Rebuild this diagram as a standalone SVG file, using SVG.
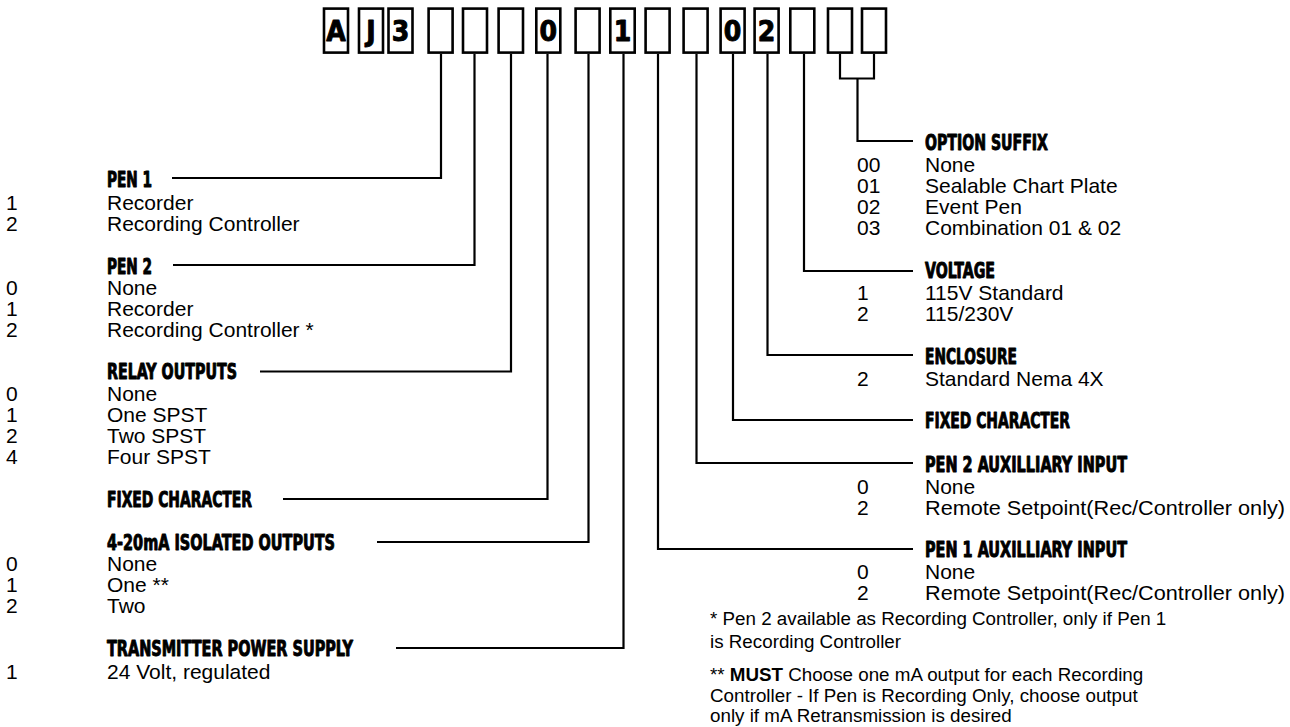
<svg xmlns="http://www.w3.org/2000/svg" width="1290" height="727" viewBox="0 0 1290 727">
<style>
.box{fill:#fff;stroke:#000;stroke-width:2.6}
.bx{font-family:"Liberation Sans Narrow","DejaVu Sans Condensed","Liberation Sans",sans-serif;font-weight:bold;font-size:28px;text-anchor:middle;fill:#000;stroke:#000;stroke-width:0.9;stroke-linejoin:round}
.hd{font-family:"Liberation Sans Narrow","DejaVu Sans Condensed","Liberation Sans",sans-serif;font-weight:bold;font-size:20.5px;fill:#000;stroke:#000;stroke-width:0.9;stroke-linejoin:round}
.tx{font-family:"Liberation Sans",Arial,sans-serif;font-size:21px;fill:#000}
.fn{font-family:"Liberation Sans",Arial,sans-serif;font-size:18.8px;fill:#000}
.conn{fill:none;stroke:#000;stroke-width:2.2}
</style>
<rect width="1290" height="727" fill="#fff"/>
<g id="connectors" class="conn">
<path d="M441,54 V178 H172"/>
<path d="M474.5,54 V265 H173"/>
<path d="M511,54 V371.5 H260"/>
<path d="M547.5,54 V499 H283"/>
<path d="M588.5,54 V542 H377"/>
<path d="M623.5,54 V648 H396"/>
<path d="M658,54 V549 H913"/>
<path d="M696.5,54 V463 H913"/>
<path d="M733,54 V420 H913"/>
<path d="M767.5,54 V355 H913"/>
<path d="M804,54 V271 H913"/>
<path d="M840,54 V78.5 H874 V54"/>
<path d="M857.5,78.5 V141 H913"/>
</g>
<g id="box1"><rect class="box" x="324" y="8.6" width="24" height="44"/><text class="bx" x="336" y="41">A</text></g>
<g id="box2"><rect class="box" x="359" y="8.6" width="24" height="44"/><text class="bx" x="371" y="41">J</text></g>
<g id="box3"><rect class="box" x="388.5" y="8.6" width="24" height="44"/><text class="bx" x="400.5" y="41">3</text></g>
<g id="box4"><rect class="box" x="428.6" y="8.6" width="24" height="44"/></g>
<g id="box5"><rect class="box" x="463" y="8.6" width="24" height="44"/></g>
<g id="box6"><rect class="box" x="498.6" y="8.6" width="24.4" height="44"/></g>
<g id="box7"><rect class="box" x="536.3" y="8.6" width="24" height="44"/><text class="bx" x="548.3" y="41">0</text></g>
<g id="box8"><rect class="box" x="575.6" y="8.6" width="24" height="44"/></g>
<g id="box9"><rect class="box" x="610.3" y="8.6" width="24.4" height="44"/><text class="bx" x="622.5" y="41">1</text></g>
<g id="box10"><rect class="box" x="645.6" y="8.6" width="24" height="44"/></g>
<g id="box11"><rect class="box" x="683.6" y="8.6" width="24" height="44"/></g>
<g id="box12"><rect class="box" x="720.6" y="8.6" width="24" height="44"/><text class="bx" x="732.6" y="41">0</text></g>
<g id="box13"><rect class="box" x="754.6" y="8.6" width="24" height="44"/><text class="bx" x="766.6" y="41">2</text></g>
<g id="box14"><rect class="box" x="790.3" y="8.6" width="24" height="44"/></g>
<g id="box15"><rect class="box" x="828" y="8.6" width="24" height="44"/></g>
<g id="box16"><rect class="box" x="862" y="8.6" width="24" height="44"/></g>

<g id="pen1">
<text class="hd" x="107" y="186.5" textLength="45" lengthAdjust="spacingAndGlyphs">PEN 1</text>
<text class="tx" x="6" y="210">1</text><text class="tx" x="107" y="210">Recorder</text>
<text class="tx" x="6" y="231">2</text><text class="tx" x="107" y="231">Recording Controller</text>
</g>
<g id="pen2">
<text class="hd" x="107" y="273.5" textLength="45" lengthAdjust="spacingAndGlyphs">PEN 2</text>
<text class="tx" x="6" y="295">0</text><text class="tx" x="107" y="295">None</text>
<text class="tx" x="6" y="316">1</text><text class="tx" x="107" y="316">Recorder</text>
<text class="tx" x="6" y="337">2</text><text class="tx" x="107" y="337">Recording Controller *</text>
</g>
<g id="relay">
<text class="hd" x="107" y="378.5" textLength="130" lengthAdjust="spacingAndGlyphs">RELAY OUTPUTS</text>
<text class="tx" x="6" y="401">0</text><text class="tx" x="107" y="401">None</text>
<text class="tx" x="6" y="422">1</text><text class="tx" x="107" y="422">One SPST</text>
<text class="tx" x="6" y="443">2</text><text class="tx" x="107" y="443">Two SPST</text>
<text class="tx" x="6" y="464">4</text><text class="tx" x="107" y="464">Four SPST</text>
</g>
<g id="fixed-left">
<text class="hd" x="107" y="507" textLength="145" lengthAdjust="spacingAndGlyphs">FIXED CHARACTER</text>
</g>
<g id="isolated">
<text class="hd" x="107" y="549.5" textLength="228" lengthAdjust="spacingAndGlyphs">4-20mA ISOLATED OUTPUTS</text>
<text class="tx" x="6" y="571">0</text><text class="tx" x="107" y="571">None</text>
<text class="tx" x="6" y="592">1</text><text class="tx" x="107" y="592">One **</text>
<text class="tx" x="6" y="613">2</text><text class="tx" x="107" y="613">Two</text>
</g>
<g id="transmitter">
<text class="hd" x="107" y="656" textLength="246" lengthAdjust="spacingAndGlyphs">TRANSMITTER POWER SUPPLY</text>
<text class="tx" x="6" y="678.5">1</text><text class="tx" x="107" y="678.5">24 Volt, regulated</text>
</g>

<g id="option">
<text class="hd" x="925" y="150" textLength="123" lengthAdjust="spacingAndGlyphs">OPTION SUFFIX</text>
<text class="tx" x="857" y="171.5">00</text><text class="tx" x="925" y="171.5">None</text>
<text class="tx" x="857" y="192.5">01</text><text class="tx" x="925" y="192.5">Sealable Chart Plate</text>
<text class="tx" x="857" y="213.5">02</text><text class="tx" x="925" y="213.5">Event Pen</text>
<text class="tx" x="857" y="234.5">03</text><text class="tx" x="925" y="234.5">Combination 01 &amp; 02</text>
</g>
<g id="voltage">
<text class="hd" x="925" y="278" textLength="70" lengthAdjust="spacingAndGlyphs">VOLTAGE</text>
<text class="tx" x="857" y="299.5">1</text><text class="tx" x="925" y="299.5">115V Standard</text>
<text class="tx" x="857" y="320.5">2</text><text class="tx" x="925" y="320.5">115/230V</text>
</g>
<g id="enclosure">
<text class="hd" x="925" y="364" textLength="92" lengthAdjust="spacingAndGlyphs">ENCLOSURE</text>
<text class="tx" x="857" y="386">2</text><text class="tx" x="925" y="386">Standard Nema 4X</text>
</g>
<g id="fixed-right">
<text class="hd" x="925" y="428" textLength="145" lengthAdjust="spacingAndGlyphs">FIXED CHARACTER</text>
</g>
<g id="pen2aux">
<text class="hd" x="925" y="472" textLength="202" lengthAdjust="spacingAndGlyphs">PEN 2 AUXILLIARY INPUT</text>
<text class="tx" x="857" y="493.5">0</text><text class="tx" x="925" y="493.5">None</text>
<text class="tx" x="857" y="514.5">2</text><text class="tx" x="925" y="514.5" textLength="360" lengthAdjust="spacingAndGlyphs">Remote Setpoint(Rec/Controller only)</text>
</g>
<g id="pen1aux">
<text class="hd" x="925" y="557" textLength="202" lengthAdjust="spacingAndGlyphs">PEN 1 AUXILLIARY INPUT</text>
<text class="tx" x="857" y="579">0</text><text class="tx" x="925" y="579">None</text>
<text class="tx" x="857" y="600">2</text><text class="tx" x="925" y="600" textLength="360" lengthAdjust="spacingAndGlyphs">Remote Setpoint(Rec/Controller only)</text>
</g>
<g id="footnotes">
<text class="fn" x="710" y="625">* Pen 2 available as Recording Controller, only if Pen 1</text>
<text class="fn" x="710" y="648">is Recording Controller</text>
<text class="fn" x="710" y="681">** <tspan font-weight="bold">MUST</tspan> Choose one mA output for each Recording</text>
<text class="fn" x="710" y="702">Controller - If Pen is Recording Only, choose output</text>
<text class="fn" x="710" y="722">only if mA Retransmission is desired</text>
</g>
</svg>
